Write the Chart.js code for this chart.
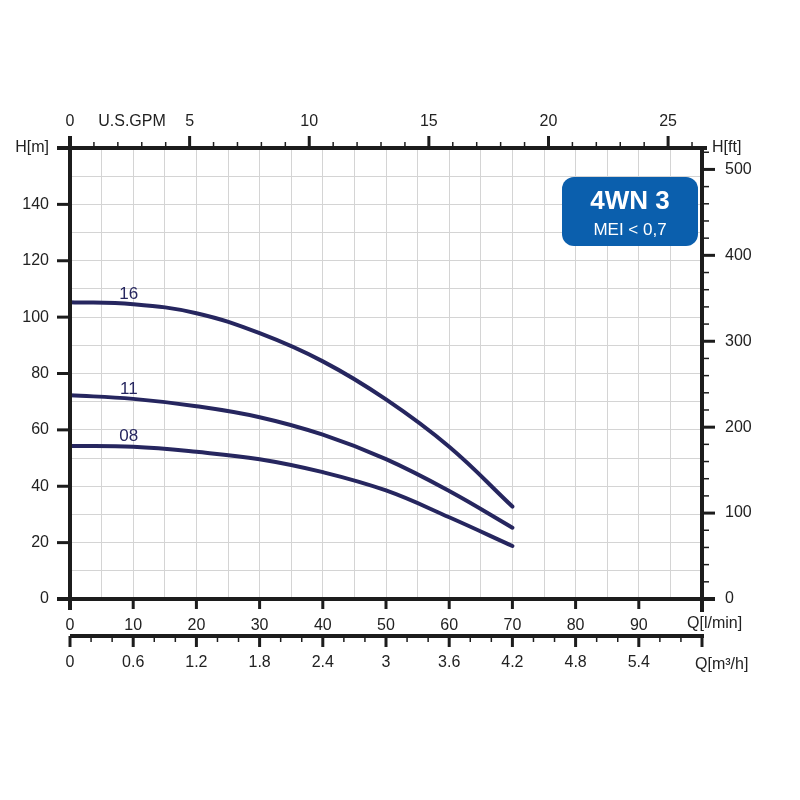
<!DOCTYPE html>
<html>
<head>
<meta charset="utf-8">
<script src="https://cdn.jsdelivr.net/npm/chart.js@4.4.0/dist/chart.umd.min.js"></script>
<style>
  body { margin: 0; background: #fff; }
  #wrap { width: 800px; height: 800px; }
</style>
</head>
<body>
<div id="wrap"><canvas id="pump" width="800" height="800"></canvas></div>
<script>
// debit Q [l/min] et hauteur H [m]
var flowLmin = [0, 10, 20, 30, 40, 50, 60, 70];
var head16 = [105.3, 104.6, 101.4, 94.3, 84.3, 70.8, 54.0, 32.8];
var head11 = [72.3, 71.0, 68.4, 64.5, 58.3, 49.6, 38.3, 25.3];
var head08 = [54.3, 54.0, 52.2, 49.6, 45.0, 38.5, 29.0, 18.8];
var curveNames = ['16', '11', '08'];

// graduations
var lminLabels = [0, 10, 20, 30, 40, 50, 60, 70, 80, 90];
var m3hLabels = ['0', '0.6', '1.2', '1.8', '2.4', '3', '3.6', '4.2', '4.8', '5.4'];
var gpmLabels = [0, 5, 10, 15, 20, 25];
var headLabels = [0, 20, 40, 60, 80, 100, 120, 140];
var ftLabels = [0, 100, 200, 300, 400, 500];

var LMIN_PER_GPM = 3.78541;
var M_PER_FT = 0.3048;
var Q_MAX = 100, H_MAX = 160;

var INK = '#1c1c1c';
var CURVE = '#26265f';
var FONT = "'Liberation Sans', Arial, sans-serif";

Chart.defaults.font.family = FONT;
Chart.defaults.font.size = 16;
Chart.defaults.color = '#222';

function toPts(h) {
    return flowLmin.map(function(q, i) { return {x: q, y: h[i]}; });
}

function curveSet(h) {
    return {
        data: toPts(h),
        borderColor: CURVE,
        borderWidth: 4,
        borderCapStyle: 'round',
        pointRadius: 0,
        tension: 0.4,
        fill: false
    };
}

var axesPlugin = {
    id: 'pumpAxes',
    afterDraw: function(chart) {
        var ctx = chart.ctx;
        var sx = chart.scales.x, sy = chart.scales.y;
        var sGpm = chart.scales.gpm, sFt = chart.scales.ft, sM3 = chart.scales.m3h;
        var a = chart.chartArea;
        ctx.save();
        ctx.strokeStyle = INK;
        function seg(x1, y1, x2, y2, w) {
            ctx.lineWidth = w;
            ctx.beginPath();
            ctx.moveTo(x1, y1);
            ctx.lineTo(x2, y2);
            ctx.stroke();
        }
        // les axes
        seg(a.left, a.top - 12, a.left, a.bottom + 11, 4);
        seg(a.left - 13, a.top, a.right + 5, a.top, 4);
        seg(a.left - 13, a.bottom, a.right + 13, a.bottom, 4);
        seg(a.right, a.top - 2, a.right, a.bottom + 13, 4);
        var yq = sM3.top;
        seg(a.left, yq, a.right + 2, yq, 4);

        // GPM en haut
        for (var g = 0; g <= 26; g++) {
            var px = sGpm.getPixelForValue(g);
            if (g % 5 === 0) seg(px, a.top, px, a.top - 12, 3);
            else seg(px, a.top, px, a.top - 6, 1.5);
        }
        // H[m] gauche
        for (var h = 0; h <= H_MAX; h += 20) {
            var py = sy.getPixelForValue(h);
            seg(a.left - 13, py, a.left, py, 3);
        }
        // H[ft] droite
        for (var f = 0; f <= 520; f += 20) {
            var pf = sFt.getPixelForValue(f);
            if (f % 100 === 0) seg(a.right, pf, a.right + 13, pf, 3);
            else seg(a.right, pf, a.right + 7, pf, 1.5);
        }
        // Q l/min
        for (var q = 0; q <= Q_MAX; q += 10) {
            var pq = sx.getPixelForValue(q);
            seg(pq, a.bottom, pq, a.bottom + 10, 3);
        }
        // Q m3/h
        for (var k = 0; k <= 30; k++) {
            var pm = sM3.getPixelForValue(k * 0.2);
            if (k % 3 === 0) seg(pm, yq, pm, yq + 11, 3);
            else seg(pm, yq, pm, yq + 6, 1.5);
        }

        // textes des axes
        ctx.fillStyle = '#222';
        ctx.font = '16px ' + FONT;
        ctx.textBaseline = 'middle';
        ctx.textAlign = 'center';
        ctx.fillText('U.S.GPM', 132, 122);
        ctx.textAlign = 'left';
        ctx.fillText('H[ft]', a.right + 10, a.top);
        ctx.fillText('Q[l/min]', a.right - 15, a.bottom + 25);
        ctx.fillText('Q[m\u00b3/h]', a.right - 7, yq + 29);

        // noms des courbes
        ctx.fillStyle = CURVE;
        ctx.textAlign = 'center';
        ctx.font = '17px ' + FONT;
        [head16, head11, head08].forEach(function(hs, i) {
            var lx = sx.getPixelForValue(9.3);
            var ly = sy.getPixelForValue(hs[1]) - 10;
            ctx.fillText(curveNames[i], lx, ly);
        });

        // cartouche
        var bx = 562, by = 177, bw = 136, bh = 69, r = 12;
        ctx.fillStyle = '#0b5fad';
        ctx.beginPath();
        ctx.moveTo(bx + r, by);
        ctx.arcTo(bx + bw, by, bx + bw, by + bh, r);
        ctx.arcTo(bx + bw, by + bh, bx, by + bh, r);
        ctx.arcTo(bx, by + bh, bx, by, r);
        ctx.arcTo(bx, by, bx + bw, by, r);
        ctx.closePath();
        ctx.fill();
        ctx.fillStyle = '#fff';
        ctx.textAlign = 'center';
        ctx.font = 'bold 26px ' + FONT;
        ctx.fillText('4WN 3', bx + bw / 2, by + 25);
        ctx.font = '17px ' + FONT;
        ctx.fillText('MEI < 0,7', bx + bw / 2, by + 53);
        ctx.restore();
    }
};

function fixH(v) { return function(s) { s.height = v; }; }
function fixW(v) { return function(s) { s.width = v; }; }

var chart = new Chart(document.getElementById('pump'), {
    type: 'line',
    data: {
        datasets: [curveSet(head16), curveSet(head11), curveSet(head08)]
    },
    options: {
        responsive: false,
        animation: false,
        layout: {padding: {left: 0, right: 0, top: 0, bottom: 114}},
        plugins: {legend: {display: false}, tooltip: {enabled: false}},
        scales: {
            x: {
                type: 'linear', position: 'bottom', weight: 0,
                min: 0, max: Q_MAX,
                border: {display: false},
                grid: {color: '#d4d4d4', lineWidth: 1, drawTicks: false},
                ticks: {
                    stepSize: 5, padding: 17, maxRotation: 0, autoSkip: false,
                    callback: function(v) { return lminLabels.indexOf(v) >= 0 ? String(v) : ''; }
                },
                afterFit: fixH(37)
            },
            m3h: {
                type: 'linear', position: 'bottom', weight: 1,
                min: 0, max: Q_MAX * 0.06,
                border: {display: false},
                grid: {drawOnChartArea: false, drawTicks: false},
                ticks: {
                    stepSize: 0.2, padding: 17, maxRotation: 0, autoSkip: false,
                    callback: function(v) {
                        var k = Math.round(v * 10);
                        return (k % 6 === 0 && k / 6 < m3hLabels.length) ? m3hLabels[k / 6] : '';
                    }
                },
                afterFit: fixH(50)
            },
            gpm: {
                type: 'linear', position: 'top',
                min: 0, max: Q_MAX / LMIN_PER_GPM,
                border: {display: false},
                grid: {drawOnChartArea: false, drawTicks: false},
                ticks: {
                    stepSize: 1, padding: 17, maxRotation: 0, autoSkip: false,
                    callback: function(v) { return gpmLabels.indexOf(v) >= 0 ? String(v) : ''; }
                },
                afterFit: fixH(148)
            },
            y: {
                type: 'linear', position: 'left',
                min: 0, max: H_MAX,
                border: {display: false},
                grid: {color: '#d4d4d4', lineWidth: 1, drawTicks: false},
                ticks: {
                    stepSize: 10, padding: 21, autoSkip: false,
                    callback: function(v) {
                        if (v === H_MAX) return 'H[m]';
                        return headLabels.indexOf(v) >= 0 ? String(v) : '';
                    }
                },
                afterFit: fixW(70)
            },
            ft: {
                type: 'linear', position: 'right',
                min: 0, max: H_MAX / M_PER_FT,
                border: {display: false},
                grid: {drawOnChartArea: false, drawTicks: false},
                ticks: {
                    stepSize: 20, padding: 23, autoSkip: false,
                    callback: function(v) { return ftLabels.indexOf(v) >= 0 ? String(v) : ''; }
                },
                afterFit: fixW(98)
            }
        }
    },
    plugins: [axesPlugin]
});
</script>
</body>
</html>
